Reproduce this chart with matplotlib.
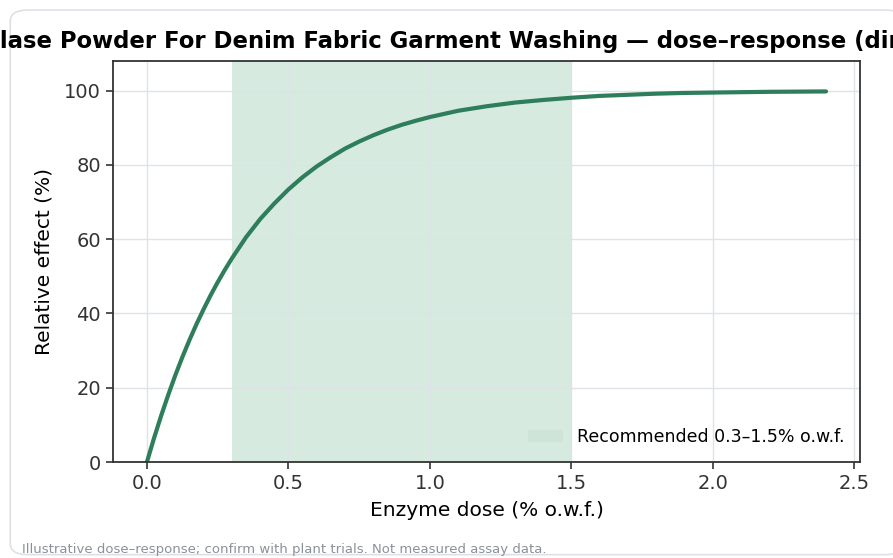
import matplotlib
matplotlib.use("Agg")
import matplotlib.pyplot as plt
from matplotlib.patches import FancyBboxPatch, Patch

# dose (% o.w.f.) and relative effect (%)
dose = [0.0, 0.025, 0.05, 0.075, 0.1, 0.125, 0.15, 0.175, 0.2, 0.225, 0.25, 0.275,
        0.3, 0.35, 0.4, 0.45, 0.5, 0.55, 0.6, 0.65, 0.7, 0.75, 0.8, 0.85, 0.9,
        0.95, 1.0, 1.1, 1.2, 1.3, 1.4, 1.5, 1.6, 1.7, 1.8, 1.9, 2.0, 2.1, 2.2,
        2.3, 2.4]
effect = [0.0, 6.4, 12.4, 18.0, 23.3, 28.2, 32.8, 37.1, 41.1, 44.9, 48.4, 51.7,
          54.8, 60.5, 65.4, 69.6, 73.4, 76.7, 79.6, 82.1, 84.4, 86.3, 88.0, 89.5, 90.8,
          91.9, 92.9, 94.6, 95.8, 96.8, 97.5, 98.1, 98.6, 98.9, 99.2, 99.4, 99.5, 99.6, 99.7,
          99.75, 99.8]
band = (0.3, 1.5)

title = "Cellulase Powder For Denim Fabric Garment Washing \u2014 dose\u2013response (directional)"
xlabel = "Enzyme dose (% o.w.f.)"
ylabel = "Relative effect (%)"
band_label = "Recommended 0.3\u20131.5% o.w.f."
note = "Illustrative dose\u2013response; confirm with plant trials. Not measured assay data."

line_color = "#2e7d5b"
band_color = "#d6eae0"
handle_color = "#cfe4d9"

fig = plt.figure(figsize=(8.93, 5.58), dpi=100)
ax = fig.add_axes([0.1265, 0.172, 0.8365, 0.7187])

# card outline behind everything
card = FancyBboxPatch((0.0115, 0.006), 1.0, 0.976, boxstyle="round,pad=0,rounding_size=0.02",
                      transform=fig.transFigure, facecolor="white", edgecolor="#dde1e6",
                      linewidth=1.2, zorder=-10)
fig.patches.append(card)

ax.axvspan(band[0], band[1], color=band_color, lw=0, zorder=0)
ax.plot(dose, effect, color=line_color, lw=3, solid_capstyle="round", zorder=3)

ax.set_ylim(0, 108)
ax.set_xticks([0.0, 0.5, 1.0, 1.5, 2.0, 2.5])
ax.grid(True, color="#dfe2e6", lw=1, zorder=1)
ax.set_axisbelow(False)
for s in ax.spines.values():
    s.set_color("#333333")
    s.set_linewidth(1.3)
    s.set_zorder(4)
ax.tick_params(labelsize=14, colors="#333333", length=5, width=1.2)
ax.set_xlabel(xlabel, fontsize=14.5, labelpad=6)
ax.set_ylabel(ylabel, fontsize=14.5, labelpad=8)
ax.set_title(title, fontsize=16.4, fontweight="bold", pad=9, x=0.483)

ax.legend(handles=[Patch(facecolor=handle_color, edgecolor="none", label=band_label)],
          loc="lower right", frameon=False, fontsize=12.5)

fig.text(0.025, 0.009, note, fontsize=9.5, color="#8a9199")

fig.savefig("out.png", dpi=100)
